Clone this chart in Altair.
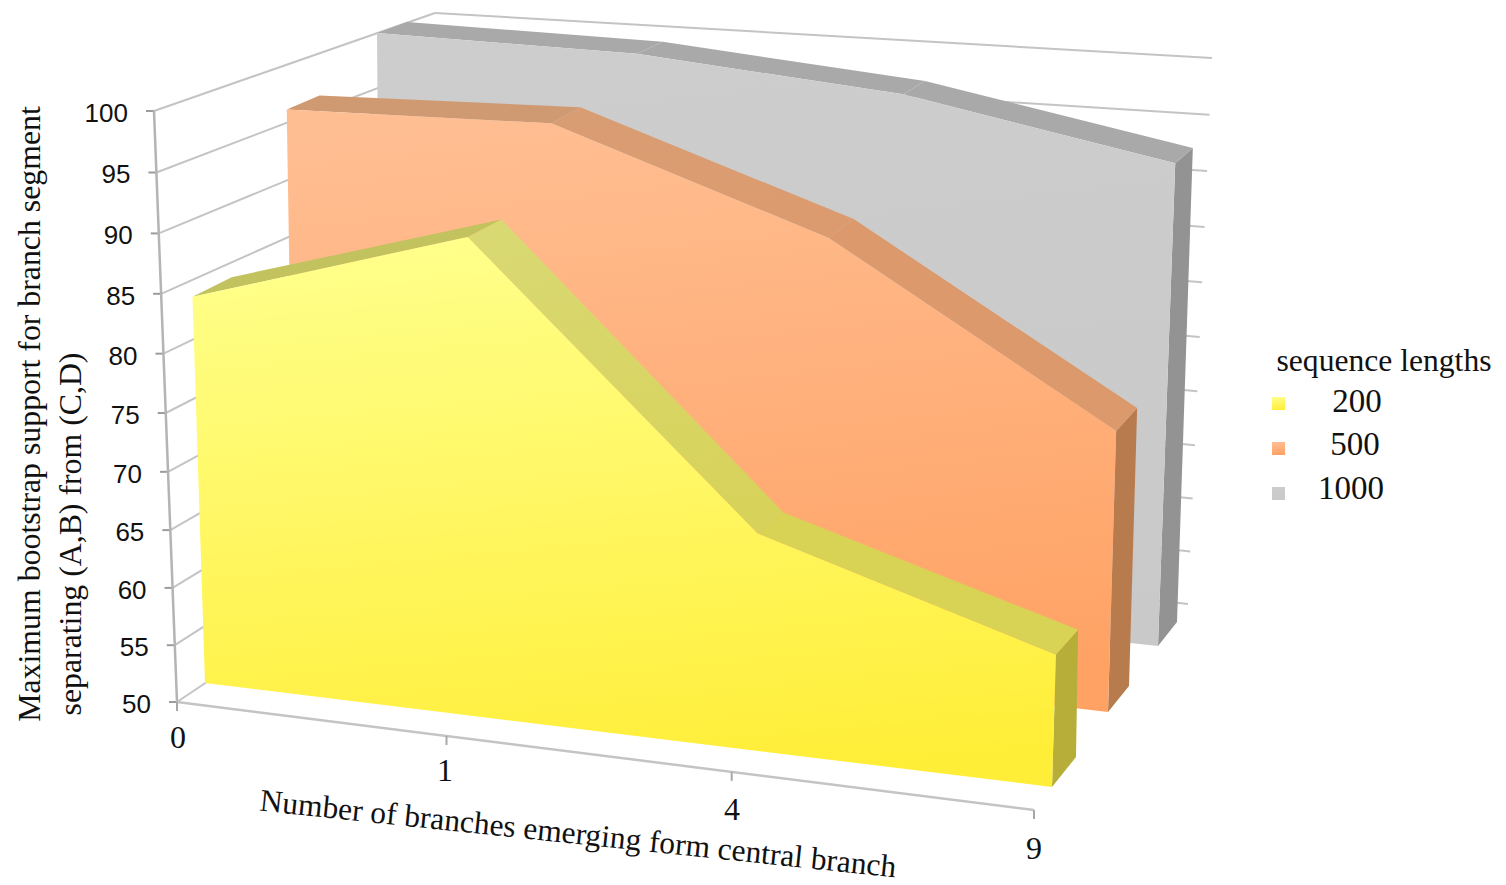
import altair as alt
import pandas as pd

# Values read per branch count, one list per sequence length
categories = ["0", "1", "4", "9"]
support_200 = [83.5, 91.6, 69.4, 62.0]
support_500 = [96.2, 97.6, 90.3, 76.0]
support_1000 = [100.0, 100.0, 98.3, 94.2]
value_ticks = [50, 55, 60, 65, 70, 75, 80, 85, 90, 95, 100]
legend_labels = ["200", "500", "1000"]

V_MIN, V_MAX = 50.0, 100.0
W, H = 1506, 885
VALUE_CURVE = 1.045


def lerp(a, b, t):
    return (a[0] + (b[0] - a[0]) * t, a[1] + (b[1] - a[1]) * t)


def along(index, k):
    # Foreshortened position of a category along the x direction
    s = index / 3
    return s / (s + k * (1 - s))


def project(quad, u, value):
    # quad: bottom-left, top-left, bottom-right, top-right of a plane spanning 50..100
    r = (value - V_MIN) / (V_MAX - V_MIN)
    t = r / (r + VALUE_CURVE * (1 - r))
    base = lerp(quad[0], quad[2], u)
    top = lerp(quad[1], quad[3], u)
    return lerp(base, top, t)


LEFT_WALL = [(177, 702), (154, 111), (448, 520), (435, 13)]
BACK_WALL = [(448, 520), (435, 13), (1188, 604), (1212, 58)]

SERIES = [
    dict(values=support_1000, k=1.04,
         front=[(381, 563), (377, 33), (1158, 646), (1177.6, 97)],
         back=[(411, 549), (407, 22), (1177, 622), (1195, 83)],
         gradient=("#cdcdcd", "#c9c9c9"),
         tops=["#a9a9a9", "#a9a9a9", "#a9a9a9"], side="#939393"),
    dict(values=support_500, k=1.08,
         front=[(295, 617), (286, 66), (1108, 712), (1124, 160)],
         back=[(325, 601), (319, 52), (1129, 686), (1145, 140)],
         gradient=("#ffbe92", "#ffa264"),
         tops=["#cf9a72", ("#d99d73", "#dc9b6e"), "#dc9a6c"], side="#b87b4e"),
    dict(values=support_200, k=1.075,
         front=[(205, 683), (186, 98), (1052, 787), (1069, 217)],
         back=[(235, 664), (230, 78), (1076, 757), (1085, 209)],
         gradient=("#ffff8a", "#ffee38"),
         tops=["#c2c25e", ("#d9d973", "#d7d259"), "#d8d255"], side="#b6ae38"),
]

X = alt.X("x:Q", scale=alt.Scale(domain=[0, W], range=[0, W]), axis=None)
Y = alt.Y("y:Q", scale=alt.Scale(domain=[0, H], range=[0, H]), axis=None)


def polygon(points, color):
    df = pd.DataFrame({"x": [p[0] for p in points], "y": [p[1] for p in points],
                       "i": list(range(len(points)))})
    return alt.Chart(df).mark_line(
        interpolate="linear-closed", filled=True, color=color, strokeWidth=0
    ).encode(x=X, y=Y, order="i:Q")


def segment(a, b, color, width=2.0):
    df = pd.DataFrame({"x": [a[0], b[0]], "y": [a[1], b[1]], "i": [0, 1]})
    return alt.Chart(df).mark_line(color=color, strokeWidth=width).encode(x=X, y=Y, order="i:Q")


def label(text, pos, size, font="Liberation Serif", angle=0, align="center"):
    df = pd.DataFrame({"x": [pos[0]], "y": [pos[1]], "t": [text]})
    return alt.Chart(df).mark_text(
        font=font, fontSize=size, angle=angle, align=align, baseline="middle", color="#111111"
    ).encode(x=X, y=Y, text="t:N")


def vertical_gradient(top, bottom):
    return alt.Gradient(
        gradient="linear", x1=0.35, y1=0, x2=0.5, y2=1,
        stops=[alt.GradientStop(color=top, offset=0), alt.GradientStop(color=bottom, offset=1)],
    )


layers = []

# Walls: gridlines on the left and back planes, plus the value ticks
GRID = "#c4c4c4"
for v in value_ticks:
    front_pt = project(LEFT_WALL, 0, v)
    back_left = project(LEFT_WALL, 1, v)
    back_right = project(BACK_WALL, 1, v)
    layers.append(segment(front_pt, back_left, GRID))
    layers.append(segment(back_left, back_right, GRID))
    layers.append(segment((front_pt[0] - 8, front_pt[1]), front_pt, "#9c9c9c"))

layers.append(segment(project(LEFT_WALL, 0, 50), project(LEFT_WALL, 0, 100), "#b4b4b4", 2.5))

# Floor front edge and category ticks
floor_a, floor_b = (177, 702), (1034, 810)
layers.append(segment(floor_a, floor_b, GRID, 2.5))
for i in range(len(categories)):
    p = lerp(floor_a, floor_b, along(i, 1.09))
    layers.append(segment(p, (p[0], p[1] + 9), "#a8a8a8"))

# Extruded series, farthest first
for s in SERIES:
    vals = s["values"]
    f = [project(s["front"], along(i, s["k"]), v) for i, v in enumerate(vals)]
    b = [project(s["back"], along(i, s["k"]), v) for i, v in enumerate(vals)]
    fbl, fbr = s["front"][0], s["front"][2]
    bbr = s["back"][2]
    layers.append(polygon([f[-1], b[-1], bbr, fbr], s["side"]))
    for i in range(3):
        shade = s["tops"][i]
        fill = vertical_gradient(*shade) if isinstance(shade, tuple) else shade
        layers.append(polygon([f[i], b[i], b[i + 1], f[i + 1]], fill))
    layers.append(polygon(f + [fbr, fbl], vertical_gradient(*s["gradient"])))

# Value labels
for v in value_ticks:
    p = project(LEFT_WALL, 0, v)
    layers.append(label(str(v), (p[0] - 26, p[1] + 3), 26, "Liberation Sans", align="right"))

# Category labels
cat_offsets = [(178, 738), (445, 771), (732, 810), (1034, 849)]
for c, pos in zip(categories, cat_offsets):
    layers.append(label(c, pos, 32))

# Axis titles
layers.append(label("Maximum bootstrap support for branch segment", (30, 414), 31.8, angle=270))
layers.append(label("separating (A,B) from (C,D)", (71, 534), 31.8, angle=270))
layers.append(label("Number of branches emerging form central branch", (578, 835), 31.5, angle=6))

# Legend
layers.append(label("sequence lengths", (1384, 362), 31.6))
swatch_top = [397, 442, 487]
label_pos = [(1357, 402), (1355, 445), (1351, 489)]
for s, name, top, pos in zip(reversed(SERIES), legend_labels, swatch_top, label_pos):
    layers.append(polygon([(1272, top), (1285, top), (1285, top + 13), (1272, top + 13)],
                          vertical_gradient(*s["gradient"])))
    layers.append(label(name, pos, 33))

chart = alt.layer(*layers).properties(
    width=W, height=H, padding=0, autosize=alt.AutoSizeParams(type="none")
).configure_view(stroke=None)

chart.save("out.html", embed_options={"renderer": "svg", "actions": False})
